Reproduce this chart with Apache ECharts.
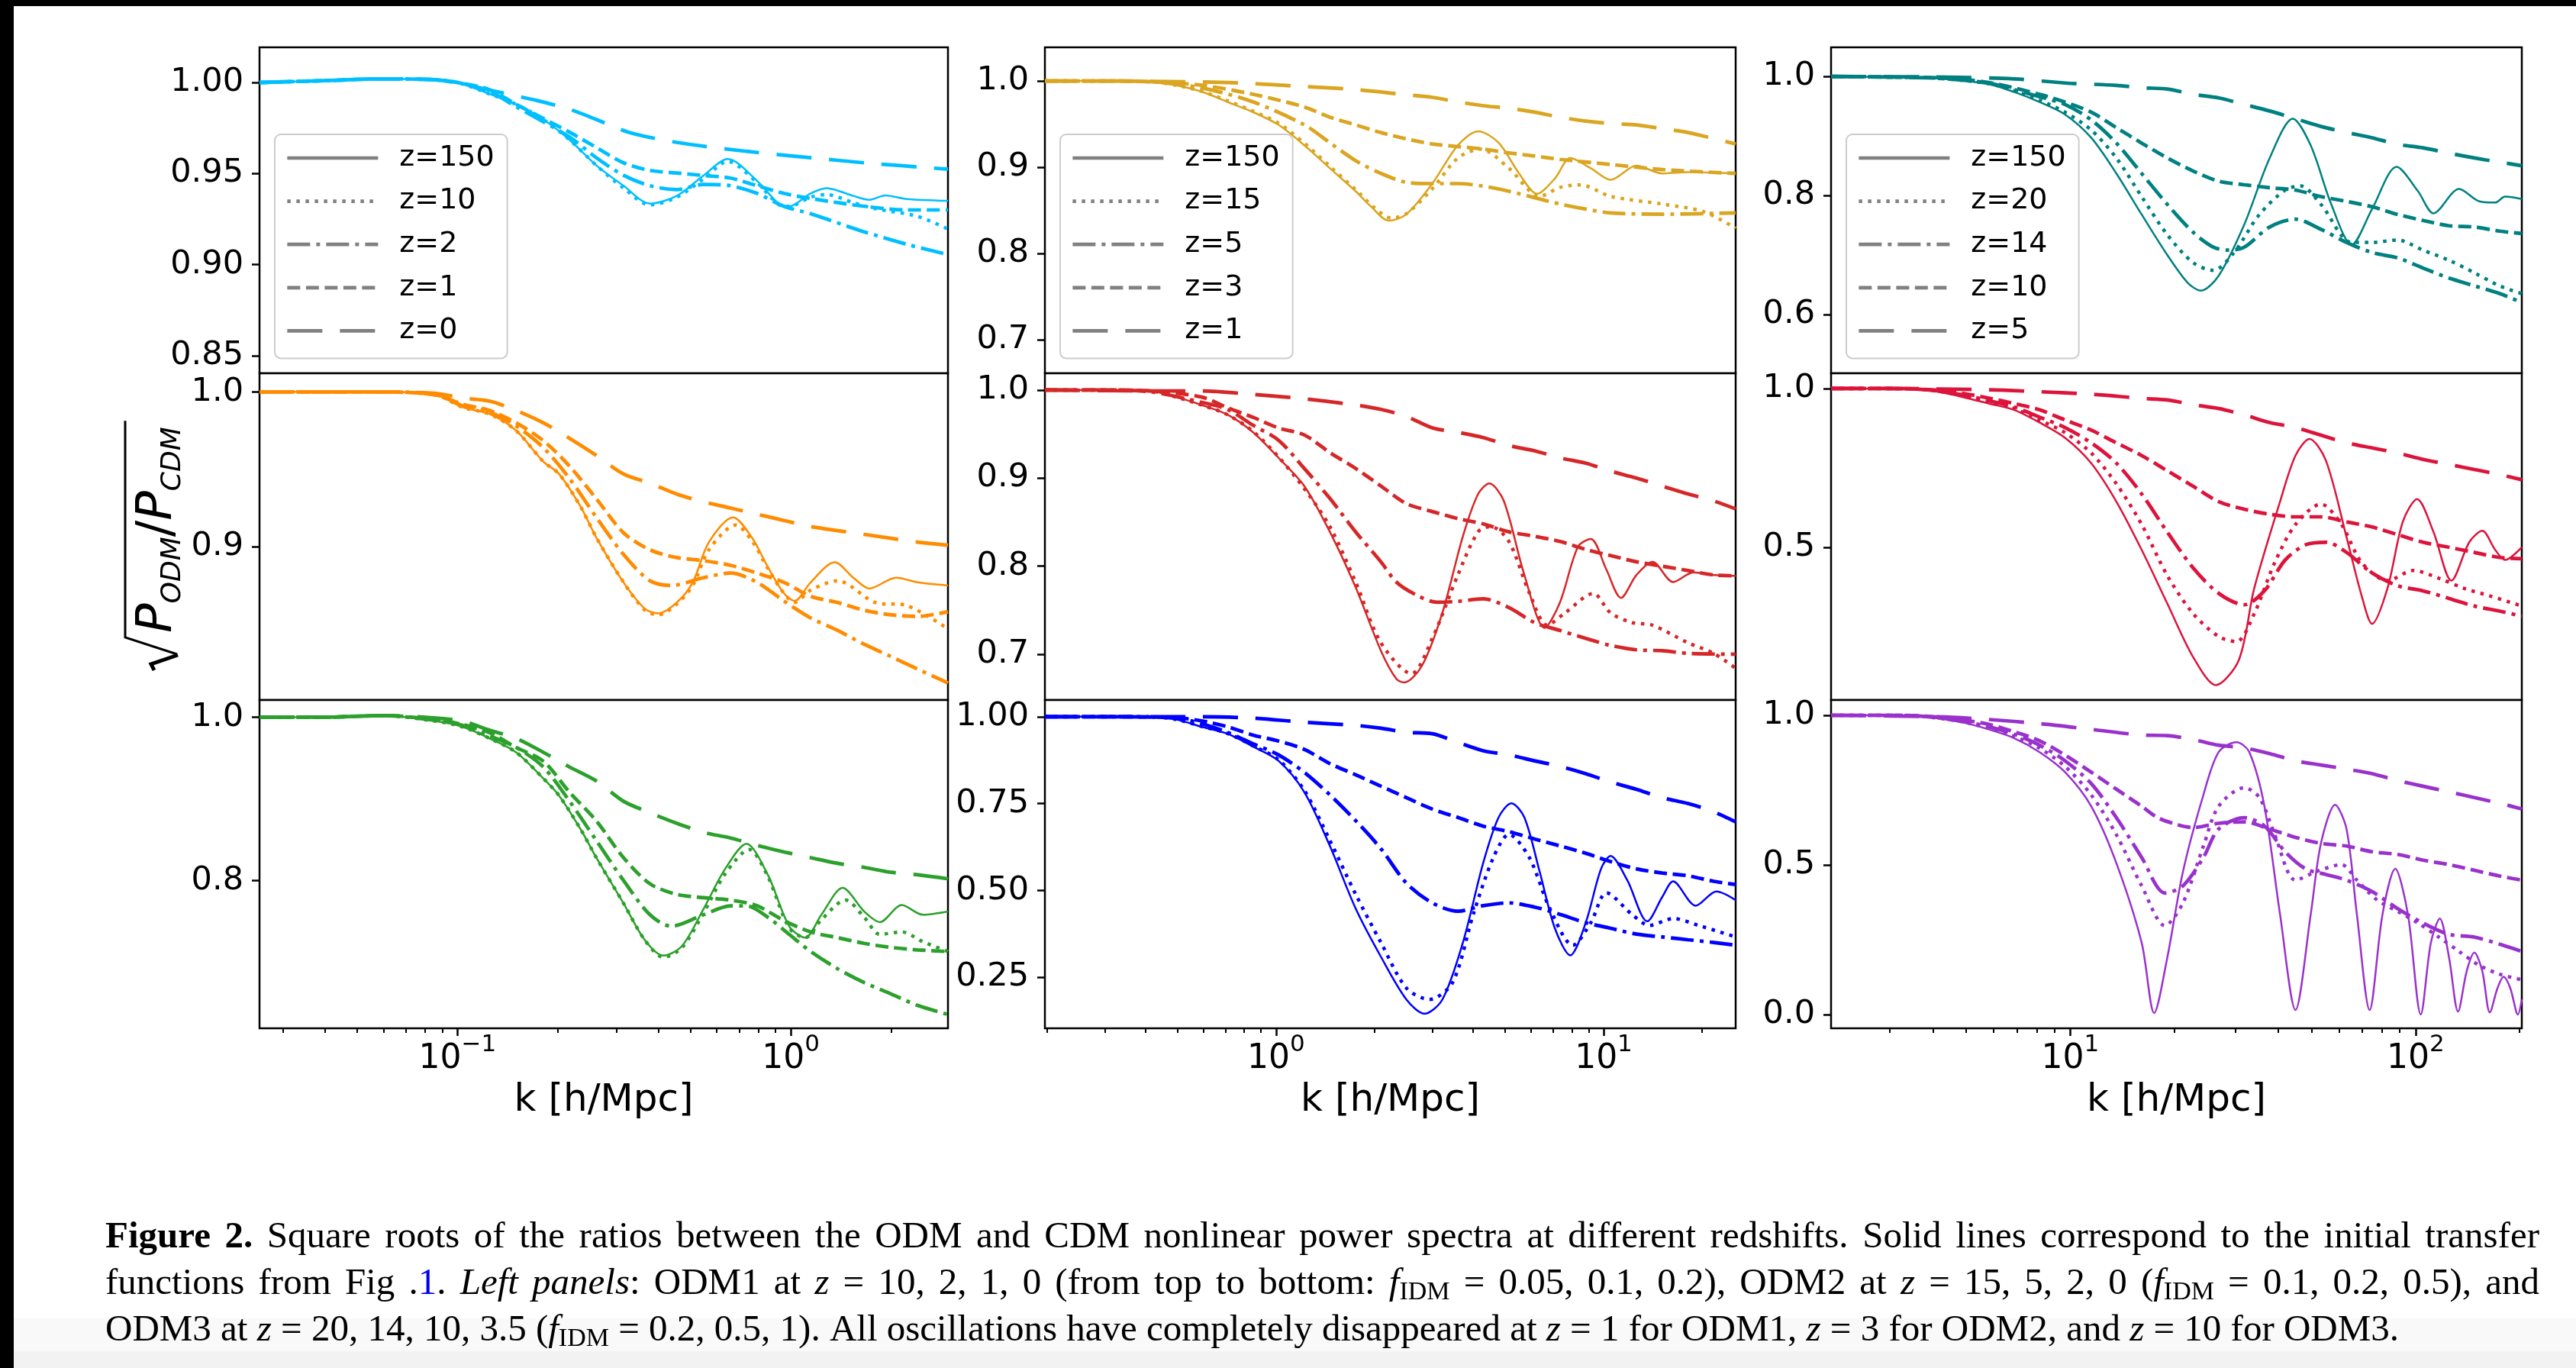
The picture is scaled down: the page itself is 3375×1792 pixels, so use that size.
<!DOCTYPE html>
<html>
<head>
<meta charset="utf-8">
<script src="https://cdn.jsdelivr.net/npm/echarts@6/dist/echarts.min.js"></script>
<style>
html,body{margin:0;padding:0;background:#fff;}
#chart{width:3375px;height:1792px;}
</style>
</head>
<body>
<div id="chart"></div>
<script>
// ---------- data: sqrt(P_ODM / P_CDM) against k [h/Mpc] ----------
// columns: ODM1 (left), ODM2 (middle), ODM3 (right); rows: f_IDM increasing downwards
const kLeft = [0.0255, 2.96];
const kMid = [0.197, 25.3];
const kRight = [2.03, 203];

const majorLeft = [0.1, 1];
const minorLeft = [0.03, 0.04, 0.05, 0.06, 0.07, 0.08, 0.09, 0.2, 0.3, 0.4, 0.5, 0.6, 0.7, 0.8, 0.9, 2];
const majorMid = [1, 10];
const minorMid = [0.2, 0.3, 0.4, 0.5, 0.6, 0.7, 0.8, 0.9, 2, 3, 4, 5, 6, 7, 8, 9, 20];
const majorRight = [10, 100];
const minorRight = [3, 4, 5, 6, 7, 8, 9, 20, 30, 40, 50, 60, 70, 80, 90, 200];

const legendLeft = ['z=150', 'z=10', 'z=2', 'z=1', 'z=0'];
const legendMid = ['z=150', 'z=15', 'z=5', 'z=3', 'z=1'];
const legendRight = ['z=150', 'z=20', 'z=14', 'z=10', 'z=5'];

// top row
const tl150 = [[0.0255,1.000],[0.04,1.001],[0.06,1.002],[0.085,1.0015],[0.1,1.0],[0.125,0.9937],[0.15,0.988],[0.181,0.9797],[0.217,0.9685],[0.261,0.9545],[0.315,0.9433],[0.378,0.9335],[0.455,0.9377],[0.547,0.9489],[0.647,0.958],[0.792,0.946],[0.919,0.9335],[0.989,0.932],[1.147,0.9391],[1.28,0.942],[1.54,0.9377],[1.72,0.9356],[1.92,0.938],[2.23,0.936],[2.96,0.935]];
const tl10 = [[0.0255,1.000],[0.04,1.001],[0.06,1.002],[0.085,1.0015],[0.1,1.0],[0.125,0.9937],[0.15,0.988],[0.181,0.9797],[0.217,0.9685],[0.261,0.9545],[0.315,0.942],[0.378,0.9328],[0.455,0.937],[0.547,0.947],[0.647,0.9566],[0.792,0.945],[0.919,0.933],[0.989,0.932],[1.147,0.937],[1.28,0.9384],[1.54,0.934],[1.79,0.9307],[2.4,0.9265],[2.96,0.9195]];
const tl2 = [[0.0255,1.0],[0.04,1.001],[0.06,1.002],[0.085,1.0015],[0.1,1.0],[0.125,0.995],[0.15,0.9867],[0.217,0.970],[0.261,0.9587],[0.315,0.949],[0.378,0.9433],[0.455,0.9412],[0.547,0.944],[0.659,0.9433],[0.792,0.9391],[0.953,0.932],[1.147,0.9279],[1.66,0.918],[2.23,0.9111],[2.96,0.9055]];
const tl1 = [[0.0255,1.0],[0.04,1.001],[0.06,1.002],[0.085,1.0015],[0.1,1.0],[0.125,0.996],[0.15,0.988],[0.217,0.9727],[0.261,0.9643],[0.315,0.9559],[0.378,0.9517],[0.455,0.9503],[0.547,0.9489],[0.659,0.9475],[0.792,0.9433],[0.953,0.9391],[1.147,0.9363],[1.66,0.932],[2.23,0.930],[2.96,0.930]];
const tl0 = [[0.0255,1.0],[0.04,1.001],[0.06,1.002],[0.085,1.0015],[0.1077,0.9986],[0.125,0.9958],[0.174,0.990],[0.217,0.9853],[0.261,0.9797],[0.326,0.9727],[0.455,0.9671],[0.736,0.9622],[1.147,0.9587],[1.66,0.9559],[2.96,0.9524]];

const tm150 = [[0.197,1.0],[0.3,1.0],[0.42,0.999],[0.496,0.995],[0.593,0.9876],[0.711,0.9757],[0.851,0.9639],[1.018,0.9491],[1.22,0.9254],[1.46,0.8988],[1.75,0.8721],[1.95,0.8544],[2.21,0.838],[2.5,0.8455],[3.0,0.881],[3.59,0.9254],[4.14,0.9417],[4.78,0.9284],[5.52,0.8928],[6.26,0.8692],[7.1,0.8869],[7.91,0.9106],[9.14,0.8988],[10.5,0.8854],[12.6,0.9017],[15.1,0.8928],[18.1,0.8943],[25.3,0.8928]];
const tm15 = [[0.197,1.0],[0.3,1.0],[0.42,0.999],[0.496,0.995],[0.593,0.988],[0.711,0.977],[0.851,0.965],[1.018,0.951],[1.22,0.928],[1.46,0.901],[1.75,0.874],[2.0,0.853],[2.25,0.841],[2.5,0.846],[3.0,0.875],[3.59,0.9106],[4.22,0.921],[5.14,0.8988],[6.38,0.8662],[7.36,0.8766],[8.51,0.8795],[10.5,0.8662],[15.1,0.8573],[20.2,0.8484],[25.3,0.8292]];
const tm5 = [[0.197,1.0],[0.3,1.0],[0.42,0.999],[0.593,0.992],[0.851,0.9757],[1.22,0.9491],[1.46,0.9284],[1.75,0.9076],[2.09,0.8928],[2.5,0.8825],[3.0,0.881],[3.59,0.881],[4.29,0.878],[5.14,0.8721],[6.15,0.8647],[7.36,0.8573],[8.82,0.8514],[10.5,0.847],[15.1,0.8455],[25.3,0.847]];
const tm3 = [[0.197,1.0],[0.3,1.0],[0.42,0.999],[0.593,0.995],[0.851,0.9846],[1.22,0.9698],[1.46,0.958],[1.75,0.9491],[2.09,0.9402],[2.5,0.9328],[3.0,0.9269],[3.59,0.9239],[4.29,0.921],[5.14,0.9165],[6.15,0.913],[7.36,0.9091],[10.5,0.9032],[15.1,0.8973],[25.3,0.8928]];
const tm1 = [[0.197,1.0],[0.3,1.0],[0.593,0.9988],[0.851,0.997],[1.22,0.9935],[1.75,0.99],[2.5,0.984],[3.0,0.981],[3.59,0.9757],[4.29,0.9713],[5.14,0.9683],[6.15,0.9639],[7.36,0.958],[8.82,0.9535],[10.5,0.9506],[12.6,0.9491],[15.1,0.9446],[18.1,0.9402],[25.3,0.9269]];

const tr150 = [[2.03,1.0],[2.93,0.999],[4.12,0.997],[5.8,0.987],[6.87,0.974],[8.15,0.957],[9.66,0.936],[11.5,0.897],[13.6,0.837],[16.1,0.768],[19.1,0.700],[21.9,0.653],[23.9,0.640],[26.9,0.665],[31.9,0.751],[37.8,0.863],[44.1,0.929],[49.7,0.884],[57.0,0.785],[65.3,0.717],[74.8,0.777],[88.1,0.848],[101.6,0.807],[112.7,0.770],[133.6,0.811],[153,0.790],[170,0.788],[181.6,0.798],[203,0.794]];
const tr20 = [[2.03,1.0],[2.93,0.999],[4.12,0.997],[5.8,0.988],[6.87,0.976],[8.15,0.96],[9.66,0.94],[11.5,0.910],[13.6,0.863],[16.1,0.798],[19.1,0.734],[22.7,0.687],[26.0,0.674],[29.8,0.704],[35.3,0.768],[41.9,0.809],[46.4,0.816],[53.2,0.785],[65.3,0.721],[74.8,0.721],[88.7,0.725],[105,0.708],[125,0.691],[148,0.670],[175,0.648],[203,0.635]];
const tr14 = [[2.03,1.0],[2.93,0.999],[4.12,0.997],[5.8,0.989],[6.87,0.978],[8.15,0.966],[9.66,0.953],[11.5,0.927],[13.6,0.888],[16.1,0.837],[19.1,0.785],[22.7,0.738],[26.0,0.713],[28.8,0.708],[31.9,0.713],[37.8,0.747],[44.9,0.760],[53.2,0.743],[63.1,0.721],[74.8,0.704],[88.7,0.695],[105,0.678],[125,0.661],[148,0.648],[175,0.635],[203,0.620]];
const tr10 = [[2.03,1.0],[2.93,0.999],[4.12,0.998],[5.8,0.99],[8.15,0.97],[9.66,0.957],[11.5,0.94],[13.6,0.914],[16.1,0.888],[19.1,0.863],[22.7,0.841],[26.9,0.824],[31.9,0.818],[37.8,0.813],[44.9,0.809],[53.2,0.798],[63.1,0.790],[74.8,0.781],[88.7,0.768],[105,0.758],[125,0.749],[148,0.747],[175,0.740],[203,0.736]];
const tr5 = [[2.03,1.0],[4.12,0.999],[6.87,0.996],[9.66,0.989],[13.6,0.985],[16.1,0.981],[19.1,0.979],[22.7,0.97],[26.9,0.964],[31.9,0.953],[37.8,0.942],[44.9,0.929],[53.2,0.916],[63.1,0.906],[74.8,0.897],[88.7,0.886],[105,0.880],[125,0.871],[148,0.863],[175,0.856],[203,0.850]];

// middle row
const ml150 = [[0.0255,1.0],[0.04,1.0],[0.06,1.0],[0.0863,0.998],[0.1038,0.990],[0.125,0.9857],[0.15,0.975],[0.181,0.955],[0.2018,0.947],[0.234,0.926],[0.261,0.906],[0.315,0.877],[0.365,0.860],[0.4,0.857],[0.455,0.864],[0.508,0.877],[0.568,0.903],[0.671,0.919],[0.764,0.906],[0.853,0.887],[0.953,0.870],[1.026,0.865],[1.147,0.877],[1.354,0.890],[1.54,0.880],[1.72,0.873],[2.07,0.880],[2.4,0.877],[2.96,0.875]];
const ml10 = [[0.0255,1.0],[0.04,1.0],[0.06,1.0],[0.0863,0.998],[0.1038,0.990],[0.125,0.9857],[0.15,0.975],[0.181,0.955],[0.2018,0.947],[0.234,0.926],[0.261,0.906],[0.315,0.877],[0.365,0.859],[0.4,0.856],[0.455,0.863],[0.508,0.875],[0.568,0.898],[0.684,0.914],[0.764,0.904],[0.853,0.886],[0.953,0.870],[1.026,0.864],[1.147,0.872],[1.38,0.878],[1.79,0.864],[2.23,0.862],[2.96,0.847]];
const ml2 = [[0.0255,1.0],[0.04,1.0],[0.06,1.0],[0.0863,0.998],[0.1038,0.991],[0.125,0.987],[0.15,0.978],[0.181,0.964],[0.217,0.944],[0.261,0.919],[0.315,0.895],[0.378,0.878],[0.438,0.875],[0.547,0.880],[0.659,0.883],[0.792,0.877],[0.953,0.865],[1.147,0.854],[1.38,0.846],[1.66,0.837],[2.0,0.829],[2.4,0.821],[2.96,0.812]];
const ml1 = [[0.0255,1.0],[0.04,1.0],[0.06,1.0],[0.0863,0.998],[0.1038,0.992],[0.125,0.988],[0.15,0.980],[0.181,0.9685],[0.217,0.952],[0.261,0.931],[0.315,0.909],[0.378,0.898],[0.455,0.893],[0.547,0.891],[0.659,0.888],[0.792,0.883],[0.953,0.877],[1.147,0.868],[1.38,0.864],[1.66,0.859],[2.0,0.856],[2.4,0.855],[2.96,0.858]];
const ml0 = [[0.0255,1.0],[0.04,1.0],[0.06,1.0],[0.0863,0.999],[0.1038,0.996],[0.125,0.994],[0.15,0.988],[0.181,0.980],[0.217,0.970],[0.261,0.959],[0.315,0.947],[0.378,0.941],[0.455,0.934],[0.547,0.929],[0.659,0.925],[0.792,0.921],[0.953,0.917],[1.147,0.913],[1.66,0.908],[2.4,0.903],[2.96,0.901]];

const mm150 = [[0.197,1.0],[0.3,1.0],[0.414,0.999],[0.496,0.992],[0.593,0.983],[0.711,0.972],[0.851,0.952],[1.018,0.923],[1.22,0.891],[1.46,0.839],[1.75,0.776],[2.09,0.704],[2.33,0.672],[2.46,0.668],[2.79,0.687],[3.22,0.747],[3.72,0.834],[4.14,0.882],[4.48,0.894],[4.96,0.874],[5.73,0.790],[6.61,0.730],[7.36,0.759],[8.35,0.822],[9.14,0.831],[10.2,0.796],[11.3,0.764],[12.6,0.790],[14.1,0.805],[16.3,0.782],[18.8,0.793],[21.7,0.790],[25.3,0.789]];
const mm15 = [[0.197,1.0],[0.3,1.0],[0.414,0.999],[0.496,0.992],[0.593,0.983],[0.711,0.972],[0.851,0.953],[1.018,0.924],[1.22,0.888],[1.46,0.845],[1.75,0.782],[2.09,0.713],[2.59,0.678],[3.0,0.718],[3.59,0.790],[4.14,0.839],[4.53,0.845],[5.14,0.828],[5.93,0.770],[6.73,0.733],[7.63,0.747],[9.30,0.769],[10.5,0.747],[12.2,0.736],[14.1,0.733],[18.1,0.713],[21.7,0.701],[25.3,0.684]];
const mm5 = [[0.197,1.0],[0.3,1.0],[0.414,0.998],[0.593,0.986],[0.711,0.978],[0.851,0.960],[1.018,0.943],[1.22,0.911],[1.46,0.877],[1.75,0.839],[2.09,0.805],[2.33,0.782],[2.69,0.767],[3.10,0.759],[3.59,0.760],[4.29,0.763],[5.14,0.753],[6.15,0.736],[7.36,0.727],[8.82,0.718],[10.5,0.710],[12.6,0.705],[15.1,0.704],[18.1,0.701],[25.3,0.700]];
const mm3 = [[0.197,1.0],[0.3,1.0],[0.414,0.999],[0.593,0.992],[0.711,0.980],[0.851,0.969],[1.018,0.957],[1.22,0.949],[1.46,0.929],[1.75,0.911],[2.09,0.891],[2.5,0.871],[3.0,0.862],[3.59,0.854],[4.29,0.848],[5.14,0.839],[6.15,0.834],[7.36,0.828],[8.82,0.819],[10.5,0.812],[12.6,0.805],[15.1,0.800],[18.1,0.795],[21.7,0.790],[25.3,0.789]];
const mm1 = [[0.197,1.0],[0.414,0.999],[0.593,0.999],[0.851,0.995],[1.22,0.990],[1.75,0.983],[2.09,0.978],[2.5,0.970],[3.0,0.957],[3.59,0.952],[4.29,0.946],[5.14,0.937],[6.15,0.931],[7.36,0.923],[8.82,0.917],[10.5,0.908],[12.6,0.900],[15.1,0.891],[18.1,0.882],[21.7,0.874],[25.3,0.865]];

const mr150 = [[2.03,1.0],[2.93,1.0],[3.48,0.999],[4.12,0.990],[4.89,0.973],[5.8,0.953],[6.87,0.933],[8.15,0.893],[9.66,0.845],[11.5,0.765],[13.6,0.644],[16.1,0.492],[19.1,0.323],[22.7,0.154],[26.4,0.066],[30.8,0.146],[34.1,0.371],[40.5,0.644],[44.9,0.789],[49.3,0.841],[55.0,0.773],[63.1,0.532],[69.8,0.347],[74.8,0.259],[82.9,0.371],[91.8,0.580],[101,0.652],[112.7,0.548],[127,0.395],[143,0.516],[156,0.552],[170,0.492],[181.6,0.460],[203,0.500]];
const mr20 = [[2.03,1.0],[2.93,1.0],[3.48,0.999],[4.12,0.992],[4.89,0.977],[5.8,0.958],[6.87,0.937],[8.15,0.901],[9.66,0.861],[11.5,0.797],[13.6,0.700],[16.1,0.572],[19.1,0.411],[22.7,0.291],[26.9,0.219],[30.3,0.203],[34.1,0.291],[39.1,0.452],[44.9,0.572],[53.2,0.636],[61.0,0.572],[69.8,0.452],[82.9,0.395],[98.4,0.427],[116.6,0.403],[138,0.371],[164,0.347],[203,0.315]];
const mr14 = [[2.03,1.0],[2.93,1.0],[3.48,0.999],[4.12,0.993],[4.89,0.980],[5.8,0.962],[6.87,0.942],[8.15,0.910],[9.66,0.877],[11.5,0.829],[13.6,0.765],[16.1,0.668],[19.1,0.548],[22.7,0.435],[26.9,0.355],[31.9,0.319],[36.5,0.363],[41.9,0.460],[48.0,0.508],[55.0,0.516],[63.1,0.484],[74.8,0.419],[88.7,0.379],[105,0.363],[125,0.339],[148,0.315],[175,0.299],[203,0.283]];
const mr10 = [[2.03,1.0],[2.93,1.0],[3.48,0.999],[4.12,0.995],[4.89,0.985],[5.8,0.97],[6.87,0.953],[8.15,0.933],[9.66,0.901],[11.5,0.869],[13.6,0.829],[16.1,0.789],[19.1,0.741],[22.7,0.692],[26.9,0.644],[31.9,0.620],[37.8,0.604],[44.9,0.596],[53.2,0.596],[63.1,0.580],[74.8,0.564],[88.7,0.540],[105,0.516],[125,0.500],[148,0.484],[175,0.468],[203,0.464]];
const mr5 = [[2.03,1.0],[2.93,1.0],[5.8,0.996],[8.15,0.990],[11.5,0.982],[16.1,0.969],[19.1,0.964],[22.7,0.949],[26.9,0.937],[31.9,0.917],[37.8,0.893],[44.9,0.877],[53.2,0.853],[63.1,0.829],[74.8,0.813],[88.7,0.797],[105,0.777],[125,0.761],[148,0.745],[175,0.729],[203,0.713]];

// bottom row
const bl150 = [[0.0255,1.0],[0.04,1.0],[0.06,1.002],[0.0863,0.995],[0.1038,0.988],[0.125,0.974],[0.15,0.957],[0.181,0.925],[0.2018,0.904],[0.234,0.863],[0.261,0.828],[0.315,0.772],[0.365,0.727],[0.415,0.708],[0.472,0.720],[0.547,0.765],[0.635,0.814],[0.736,0.845],[0.853,0.807],[0.989,0.744],[1.105,0.730],[1.235,0.758],[1.43,0.791],[1.66,0.762],[1.85,0.749],[2.15,0.770],[2.49,0.758],[2.96,0.762]];
const bl10 = [[0.0255,1.0],[0.04,1.0],[0.06,1.002],[0.0863,0.995],[0.1038,0.988],[0.125,0.974],[0.15,0.957],[0.181,0.925],[0.2018,0.904],[0.234,0.863],[0.261,0.828],[0.315,0.772],[0.365,0.727],[0.415,0.706],[0.472,0.718],[0.547,0.760],[0.635,0.808],[0.75,0.838],[0.853,0.805],[0.989,0.742],[1.105,0.730],[1.235,0.752],[1.46,0.776],[1.66,0.755],[1.85,0.734],[2.15,0.737],[2.49,0.725],[2.96,0.713]];
const bl2 = [[0.0255,1.0],[0.04,1.0],[0.06,1.002],[0.0863,0.996],[0.1038,0.990],[0.125,0.977],[0.15,0.963],[0.181,0.939],[0.217,0.897],[0.261,0.849],[0.315,0.800],[0.378,0.758],[0.438,0.744],[0.547,0.758],[0.659,0.769],[0.736,0.769],[0.853,0.755],[0.989,0.734],[1.147,0.713],[1.38,0.692],[1.66,0.675],[2.0,0.661],[2.4,0.647],[2.96,0.636]];
const bl1 = [[0.0255,1.0],[0.04,1.0],[0.06,1.002],[0.0863,0.997],[0.1038,0.991],[0.125,0.981],[0.15,0.963],[0.181,0.946],[0.217,0.908],[0.261,0.873],[0.315,0.828],[0.378,0.796],[0.455,0.783],[0.547,0.779],[0.659,0.776],[0.792,0.769],[0.953,0.751],[1.147,0.737],[1.38,0.730],[1.66,0.723],[2.0,0.718],[2.4,0.715],[2.96,0.713]];
const bl0 = [[0.0255,1.0],[0.04,1.0],[0.06,1.002],[0.0863,0.999],[0.1038,0.995],[0.125,0.984],[0.15,0.974],[0.181,0.957],[0.217,0.939],[0.261,0.922],[0.315,0.897],[0.378,0.883],[0.455,0.870],[0.547,0.859],[0.659,0.852],[0.792,0.843],[0.953,0.835],[1.147,0.828],[1.38,0.821],[1.66,0.816],[2.0,0.810],[2.4,0.807],[2.96,0.802]];

const bm150 = [[0.197,1.0],[0.3,1.0],[0.414,1.0],[0.496,0.992],[0.593,0.971],[0.711,0.951],[0.851,0.914],[1.018,0.873],[1.22,0.783],[1.46,0.628],[1.75,0.448],[2.09,0.309],[2.5,0.186],[2.84,0.145],[3.22,0.186],[3.72,0.350],[4.29,0.579],[4.78,0.710],[5.23,0.751],[5.73,0.710],[6.38,0.554],[7.10,0.391],[7.91,0.313],[8.82,0.407],[9.82,0.562],[10.5,0.599],[11.8,0.530],[13.6,0.411],[15.1,0.481],[16.3,0.526],[19.1,0.456],[22.1,0.497],[25.3,0.472]];
const bm15 = [[0.197,1.0],[0.3,1.0],[0.414,1.0],[0.496,0.992],[0.593,0.972],[0.711,0.952],[0.851,0.916],[1.018,0.876],[1.22,0.788],[1.46,0.644],[1.75,0.489],[2.09,0.350],[2.5,0.219],[2.94,0.186],[3.46,0.235],[4.0,0.431],[4.61,0.595],[5.14,0.661],[5.93,0.595],[6.85,0.448],[8.06,0.342],[9.14,0.407],[10.2,0.493],[12.2,0.431],[13.8,0.399],[16.3,0.419],[19.5,0.399],[25.3,0.366]];
const bm5 = [[0.197,1.0],[0.3,1.0],[0.496,0.996],[0.593,0.980],[0.711,0.955],[0.851,0.922],[1.018,0.890],[1.22,0.840],[1.46,0.775],[1.75,0.701],[2.09,0.620],[2.5,0.521],[3.0,0.464],[3.59,0.440],[4.29,0.456],[5.14,0.464],[6.15,0.452],[7.36,0.431],[8.82,0.407],[10.5,0.391],[12.6,0.374],[15.1,0.366],[18.1,0.358],[21.7,0.350],[25.3,0.342]];
const bm3 = [[0.197,1.0],[0.3,1.0],[0.496,0.997],[0.593,0.988],[0.711,0.971],[0.851,0.947],[1.018,0.930],[1.22,0.906],[1.46,0.865],[1.75,0.833],[2.09,0.800],[2.5,0.767],[3.0,0.734],[3.59,0.710],[4.29,0.685],[5.14,0.669],[6.15,0.648],[7.36,0.628],[8.82,0.607],[10.5,0.583],[12.6,0.562],[15.1,0.550],[18.1,0.542],[21.7,0.526],[25.3,0.517]];
const bm1 = [[0.197,1.0],[0.414,1.0],[0.593,1.0],[0.851,0.996],[1.22,0.984],[1.75,0.975],[2.09,0.967],[2.5,0.955],[3.0,0.951],[3.59,0.926],[4.29,0.902],[5.14,0.890],[6.15,0.873],[7.36,0.857],[8.82,0.836],[10.5,0.812],[12.6,0.791],[15.1,0.767],[18.1,0.750],[21.7,0.726],[25.3,0.697]];

const br150 = [[2.03,1.0],[2.93,1.0],[3.48,0.999],[4.12,0.990],[4.89,0.976],[5.8,0.953],[6.87,0.924],[8.15,0.877],[9.66,0.81],[11.5,0.696],[13.6,0.506],[16.1,0.24],[17.5,0.005],[19.1,0.19],[21.2,0.477],[24.3,0.734],[26.9,0.877],[30.3,0.910],[33.0,0.877],[36.5,0.696],[40.5,0.335],[44.9,0.015],[49.7,0.335],[53.2,0.572],[58.5,0.701],[63.1,0.62],[67.6,0.335],[73.6,0.015],[80.2,0.335],[87.3,0.487],[95.0,0.335],[103.5,0.0],[110.7,0.24],[117.5,0.321],[125,0.19],[132.7,0.01],[140.6,0.145],[148,0.207],[156,0.145],[164,0.007],[172.6,0.088],[179.8,0.126],[188,0.088],[197.8,0.0],[203,0.05]];
const br20 = [[2.03,1.0],[2.93,1.0],[3.48,0.999],[4.12,0.991],[4.89,0.978],[5.8,0.957],[6.87,0.930],[8.15,0.89],[9.66,0.829],[11.5,0.734],[13.6,0.601],[16.1,0.43],[18.8,0.297],[21.2,0.373],[24.3,0.563],[26.9,0.696],[31.9,0.758],[35.3,0.725],[39.1,0.601],[44.9,0.449],[51.4,0.477],[61.0,0.501],[67.6,0.449],[77.5,0.382],[88.7,0.345],[101.6,0.306],[116.6,0.259],[133.6,0.211],[153,0.164],[175,0.135],[203,0.116]];
const br14 = [[2.03,1.0],[2.93,1.0],[3.48,0.999],[4.12,0.992],[4.89,0.980],[5.8,0.962],[6.87,0.937],[8.15,0.9],[9.66,0.848],[11.5,0.772],[13.6,0.658],[16.1,0.525],[18.8,0.406],[21.2,0.43],[24.3,0.525],[26.9,0.62],[31.9,0.658],[36.5,0.63],[41.9,0.544],[48.0,0.487],[55.0,0.468],[63.1,0.449],[74.8,0.411],[88.7,0.354],[105,0.306],[125,0.268],[148,0.259],[175,0.235],[203,0.211]];
const br10 = [[2.03,1.0],[2.93,1.0],[3.48,0.999],[4.12,0.994],[4.89,0.984],[5.8,0.97],[6.87,0.945],[8.15,0.915],[9.66,0.867],[11.5,0.81],[13.6,0.753],[16.1,0.696],[17.9,0.658],[20.5,0.634],[22.7,0.625],[26.9,0.639],[31.9,0.644],[37.8,0.62],[44.9,0.592],[53.2,0.572],[63.1,0.563],[74.8,0.544],[88.7,0.535],[105,0.516],[125,0.501],[148,0.482],[175,0.463],[203,0.449]];
const br5 = [[2.03,1.0],[4.12,0.995],[5.8,0.986],[8.15,0.972],[11.5,0.953],[16.1,0.934],[19.1,0.932],[22.7,0.919],[26.9,0.90],[31.9,0.891],[37.8,0.872],[44.9,0.848],[53.2,0.834],[63.1,0.82],[74.8,0.805],[88.7,0.782],[105,0.763],[125,0.744],[148,0.725],[175,0.706],[203,0.687]];

// y-axis tick values per panel
const yTicksTL = [0.85, 0.90, 0.95, 1.00];
const yTicksTM = [0.7, 0.8, 0.9, 1.0];
const yTicksTR = [0.6, 0.8, 1.0];
const yTicksML = [0.9, 1.0];
const yTicksMM = [0.7, 0.8, 0.9, 1.0];
const yTicksMR = [0.5, 1.0];
const yTicksBL = [0.8, 1.0];
const yTicksBM = [0.25, 0.50, 0.75, 1.00];
const yTicksBR = [0.0, 0.5, 1.0];

// caption text (** bold, * italic, # link colour, _{..} subscript)
const captionLines = [
  '**Figure 2.** Square roots of the ratios between the ODM and CDM nonlinear power spectra at different redshifts. Solid lines correspond to the initial transfer',
  'functions from Fig .#1#. *Left panels*: ODM1 at *z* = 10, 2, 1, 0 (from top to bottom: *f*_{IDM} = 0.05, 0.1, 0.2), ODM2 at *z* = 15, 5, 2, 0 (*f*_{IDM} = 0.1, 0.2, 0.5), and',
  'ODM3 at *z* = 20, 14, 10, 3.5 (*f*_{IDM} = 0.2, 0.5, 1). All oscillations have completely disappeared at *z* = 1 for ODM1, *z* = 3 for ODM2, and *z* = 10 for ODM3.'
];

// ---------- layout & styling ----------
const FONT = 'DejaVu Sans';
const colLeft = [340, 1369, 2399];
const colWidth = [902, 905, 905];
const rowTop = [62, 489, 917];
const rowHeight = [427, 428, 430];
const kRanges = [kLeft, kMid, kRight];
const majors = [majorLeft, majorMid, majorRight];
const minors = [minorLeft, minorMid, minorRight];
const legends = [legendLeft, legendMid, legendRight];

const lineStyles = [
  { width: 2.5, type: 'solid' },
  { width: 4.5, type: [4.5, 7.5] },
  { width: 4.7, type: [30, 8, 5, 8] },
  { width: 4.7, type: [17, 7.5] },
  { width: 4.7, type: [46, 23] }
];

const panels = [
  { row: 0, col: 0, color: '#00bfff', y: [0.8403, 1.0193], ticks: yTicksTL, dec: 2, data: [tl150, tl10, tl2, tl1, tl0] },
  { row: 0, col: 1, color: '#daa520', y: [0.661, 1.039], ticks: yTicksTM, dec: 1, data: [tm150, tm15, tm5, tm3, tm1] },
  { row: 0, col: 2, color: '#008080', y: [0.501, 1.049], ticks: yTicksTR, dec: 1, data: [tr150, tr20, tr14, tr10, tr5] },
  { row: 1, col: 0, color: '#ff8c00', y: [0.801, 1.012], ticks: yTicksML, dec: 1, data: [ml150, ml10, ml2, ml1, ml0] },
  { row: 1, col: 1, color: '#d62728', y: [0.648, 1.019], ticks: yTicksMM, dec: 1, data: [mm150, mm15, mm5, mm3, mm1] },
  { row: 1, col: 2, color: '#dc143c', y: [0.019, 1.048], ticks: yTicksMR, dec: 1, data: [mr150, mr20, mr14, mr10, mr5] },
  { row: 2, col: 0, color: '#2ca02c', y: [0.619, 1.021], ticks: yTicksBL, dec: 1, data: [bl150, bl10, bl2, bl1, bl0] },
  { row: 2, col: 1, color: '#0000ff', y: [0.103, 1.048], ticks: yTicksBM, dec: 2, data: [bm150, bm15, bm5, bm3, bm1] },
  { row: 2, col: 2, color: '#9932cc', y: [-0.046, 1.051], ticks: yTicksBR, dec: 1, data: [br150, br20, br14, br10, br5] }
];

const option = {
  animation: false,
  backgroundColor: '#ffffff',
  textStyle: { fontFamily: FONT },
  grid: [], xAxis: [], yAxis: [], series: [], legend: [], graphic: []
};

function expLabel(v) {
  const e = Math.round(v);
  return '{b|10}{s|' + (e < 0 ? '\u2212' + (-e) : String(e)) + '}';
}

panels.forEach((p, i) => {
  const c = p.col, r = p.row, bottom = r === 2;
  const kr = kRanges[c];
  const lmin = Math.log10(kr[0]), lmax = Math.log10(kr[1]);
  option.grid.push({
    left: colLeft[c], top: rowTop[r], width: colWidth[c], height: rowHeight[r],
    show: true, borderColor: '#000', borderWidth: 2.5, backgroundColor: '#fff'
  });
  // data axis (log)
  option.xAxis.push({ type: 'log', logBase: 10, gridIndex: i, min: kr[0], max: kr[1], position: 'bottom', show: false, axisLine: { onZero: false } });
  // decade ticks and labels
  option.xAxis.push({
    type: 'value', gridIndex: i, min: lmin, max: lmax, position: 'bottom',
    axisLine: { show: false, onZero: false }, splitLine: { show: false },
    axisTick: { show: bottom, customValues: majors[c].map(Math.log10), length: 10, lineStyle: { color: '#000', width: 2.5 } },
    axisLabel: {
      show: bottom, customValues: majors[c].map(Math.log10), formatter: expLabel, margin: 6, color: '#000',
      rich: {
        b: { fontSize: 44, fontFamily: FONT, color: '#000', verticalAlign: 'bottom' },
        s: { fontSize: 31, fontFamily: FONT, color: '#000', verticalAlign: 'bottom', padding: [0, 0, 26, 0] }
      }
    },
    name: bottom ? 'k [h/Mpc]' : '', nameLocation: 'middle', nameGap: 70,
    nameTextStyle: { fontSize: 50, fontFamily: FONT, color: '#000' }
  });
  // minor ticks
  option.xAxis.push({
    type: 'value', gridIndex: i, min: lmin, max: lmax, position: 'bottom',
    axisLine: { show: false, onZero: false }, splitLine: { show: false }, axisLabel: { show: false },
    axisTick: { show: bottom, customValues: minors[c].map(Math.log10), length: 6, lineStyle: { color: '#000', width: 2 } }
  });
  option.yAxis.push({
    type: 'value', gridIndex: i, min: p.y[0], max: p.y[1], position: 'left',
    axisLine: { show: false, onZero: false }, splitLine: { show: false },
    axisTick: { show: true, customValues: p.ticks, length: 10, lineStyle: { color: '#000', width: 2.5 } },
    axisLabel: { customValues: p.ticks, formatter: v => v.toFixed(p.dec), fontSize: 43, fontFamily: FONT, color: '#000', margin: 21 }
  });
  p.data.forEach((d, j) => {
    option.series.push({
      type: 'line', xAxisIndex: 3 * i, yAxisIndex: i, data: d,
      showSymbol: false, symbol: 'none', smooth: 0.3, silent: true,
      lineStyle: { color: p.color, width: lineStyles[j].width, type: lineStyles[j].type, cap: 'butt' }
    });
  });
  if (r === 0) {
    const names = legends[c].map(n => c + '|' + n);
    names.forEach((n, j) => {
      option.series.push({
        type: 'line', name: n, xAxisIndex: 3 * i, yAxisIndex: i, data: [],
        symbol: 'none', showSymbol: false, color: '#808080',
        lineStyle: { color: '#808080', width: 4.7, type: lineStyles[j].type }
      });
    });
    option.legend.push({
      data: names, orient: 'vertical', left: colLeft[c] + 20, top: 176,
      selectedMode: false, itemWidth: 119, itemHeight: 38, itemGap: 18.6,
      padding: [12, 17, 17, 14],
      backgroundColor: 'rgba(255,255,255,0.8)', borderColor: '#cccccc', borderWidth: 2, borderRadius: 8,
      lineStyle: { width: 'inherit' },
      itemStyle: { color: 'rgba(0,0,0,0)', borderColor: 'rgba(0,0,0,0)', borderWidth: 0, opacity: 0 },
      formatter: n => n.split('|')[1],
      textStyle: { fontFamily: FONT, fontSize: 38, color: '#000', padding: [0, 0, 0, 23] }
    });
  }
});

// ---------- frame bands ----------
option.graphic.push({ type: 'rect', shape: { x: 0, y: 1727, width: 3375, height: 43 }, style: { fill: '#f9f9f9' }, z: -10 });
option.graphic.push({ type: 'rect', shape: { x: 0, y: 1770, width: 3375, height: 22 }, style: { fill: '#f2f2f2' }, z: -10 });
option.graphic.push({ type: 'rect', shape: { x: 0, y: 0, width: 3375, height: 8 }, style: { fill: '#000' }, z: 100 });
option.graphic.push({ type: 'rect', shape: { x: 0, y: 0, width: 18, height: 1792 }, style: { fill: '#000' }, z: 100 });

// ---------- y-axis title: sqrt(P_ODM / P_CDM), rotated ----------
const measureCtx = document.createElement('canvas').getContext('2d');
function textWidth(t, font) { measureCtx.font = font; return measureCtx.measureText(t).width; }
(function () {
  const big = 64, small = 36;
  const parts = [
    ['P', big, 'italic', 207], ['ODM', small, 'italic', 227],
    ['/', big, 'normal', 207], ['P', big, 'italic', 207], ['CDM', small, 'italic', 227]
  ];
  let y = 829;
  parts.forEach(([t, s, st, x]) => {
    option.graphic.push({
      type: 'text', x: x, y: y, rotation: Math.PI / 2,
      style: { text: t, fontSize: s, fontStyle: st, fontFamily: FONT, fill: '#000', align: 'left', verticalAlign: 'middle' }
    });
    y -= textWidth(t, st + ' ' + s + 'px "' + FONT + '"');
  });
  option.graphic.push({ type: 'polyline', shape: { points: [[232, 857], [164, 835], [164, y - 8]] }, style: { stroke: '#000', lineWidth: 3, fill: null } });
  option.graphic.push({ type: 'polyline', shape: { points: [[233, 858], [198, 870], [202, 878]] }, style: { stroke: '#000', lineWidth: 5, fill: null } });
})();

// ---------- caption ----------
function parseRuns(src) {
  const runs = [];
  let b = false, it = false, blue = false, sub = false, buf = '';
  const flush = () => { if (buf) { runs.push({ t: buf, b, it, blue, sub }); buf = ''; } };
  for (let i = 0; i < src.length; i++) {
    const ch = src[i];
    if (src.startsWith('**', i)) { flush(); b = !b; i++; continue; }
    if (ch === '*') { flush(); it = !it; continue; }
    if (ch === '#') { flush(); blue = !blue; continue; }
    if (src.startsWith('_{', i)) { flush(); sub = true; i++; continue; }
    if (ch === '}' && sub) { flush(); sub = false; continue; }
    buf += ch;
  }
  flush();
  return runs;
}
function toWords(runs) {
  const words = [[]];
  runs.forEach(r => {
    r.t.split(' ').forEach((piece, j) => {
      if (j > 0) words.push([]);
      if (piece) words[words.length - 1].push(Object.assign({}, r, { t: piece }));
    });
  });
  return words.filter(w => w.length);
}
const CAP_FONT = 'Liberation Serif';
const CAP_SIZE = 49, CAP_SUB = 34;
function runFont(r) {
  return (r.it ? 'italic ' : '') + (r.b ? 'bold ' : '') + (r.sub ? CAP_SUB : CAP_SIZE) + 'px "' + CAP_FONT + '"';
}
const capX0 = 138, capX1 = 3327;
const capY = [1621, 1682, 1743];
captionLines.forEach((line, li) => {
  const words = toWords(parseRuns(line));
  const widths = words.map(w => w.reduce((s, r) => s + textWidth(r.t, runFont(r)), 0));
  const total = widths.reduce((a, b) => a + b, 0);
  const natural = textWidth(' ', CAP_SIZE + 'px "' + CAP_FONT + '"');
  const gap = li < captionLines.length - 1 ? (capX1 - capX0 - total) / (words.length - 1) : natural;
  let x = capX0;
  words.forEach((w, wi) => {
    w.forEach(r => {
      option.graphic.push({
        type: 'text', x: x, y: capY[li] + (r.sub ? 11 : 0),
        style: {
          text: r.t, fontSize: r.sub ? CAP_SUB : CAP_SIZE, fontFamily: CAP_FONT,
          fontStyle: r.it ? 'italic' : 'normal', fontWeight: r.b ? 'bold' : 'normal',
          fill: r.blue ? '#0000ee' : '#000', align: 'left', verticalAlign: 'middle'
        }
      });
      x += textWidth(r.t, runFont(r));
    });
    x += gap;
  });
});

const chart = echarts.init(document.getElementById('chart'), null, { renderer: 'canvas', width: 3375, height: 1792 });
chart.setOption(option);
</script>
</body>
</html>
